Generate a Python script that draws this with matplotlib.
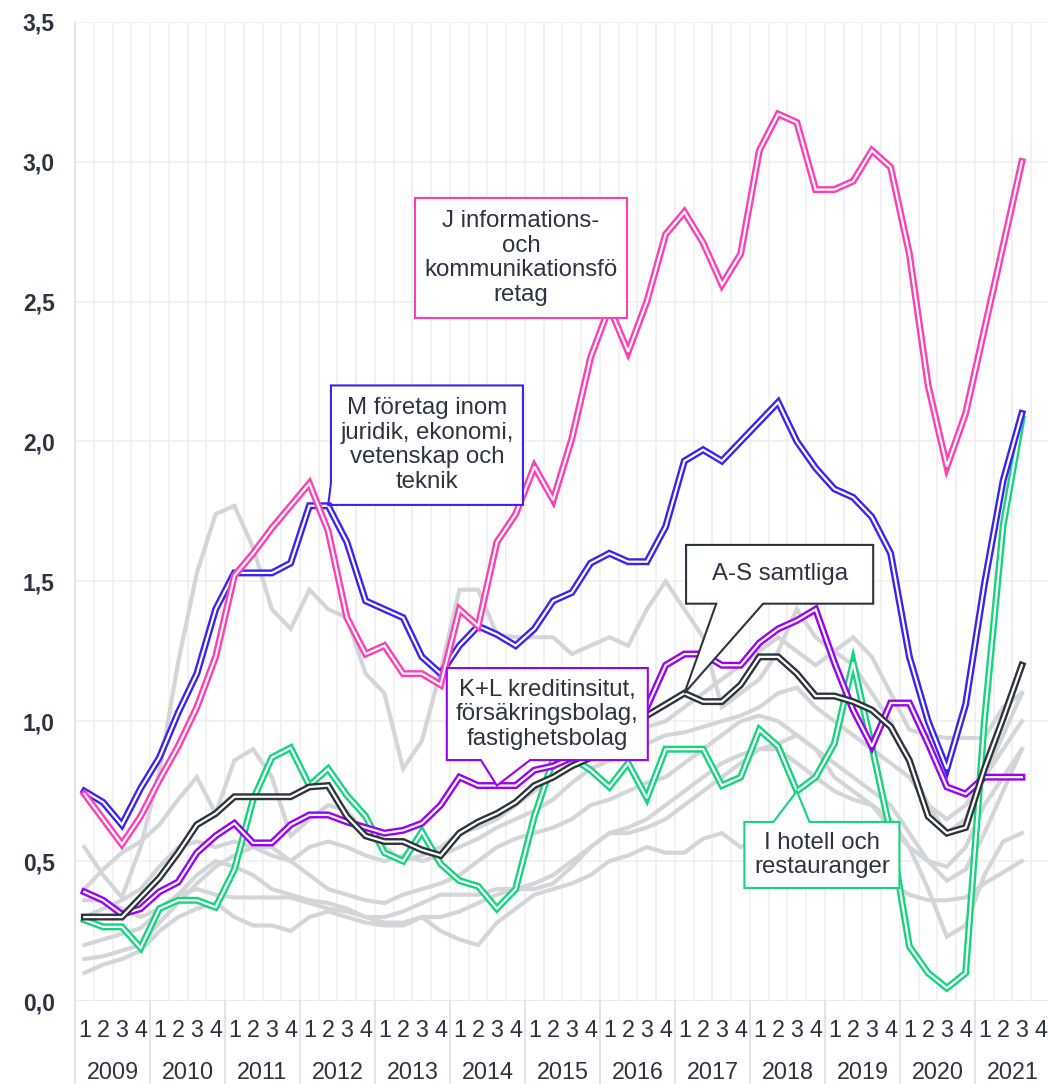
import numpy as np
import matplotlib.pyplot as plt
from matplotlib.patches import Polygon
from matplotlib.lines import Line2D

plt.rcParams['font.family'] = ['Liberation Sans', 'DejaVu Sans']

years = list(range(2009, 2022))
quarters = ['1', '2', '3', '4']

# named series, 2009Q1 .. 2021Q3
ict = [0.74, 0.65, 0.56, 0.66, 0.79, 0.91, 1.05, 1.23, 1.52, 1.60, 1.69, 1.77, 1.85,
       1.68, 1.37, 1.24, 1.27, 1.17, 1.17, 1.13, 1.40, 1.34, 1.64, 1.74, 1.91, 1.79,
       2.01, 2.30, 2.48, 2.32, 2.50, 2.74, 2.82, 2.71, 2.56, 2.67, 3.04, 3.17, 3.14,
       2.90, 2.90, 2.93, 3.04, 2.98, 2.67, 2.20, 1.91, 2.10, 2.40, 2.70, 3.00]
legal = [0.75, 0.71, 0.63, 0.76, 0.87, 1.03, 1.17, 1.40, 1.53, 1.53, 1.53, 1.565, 1.77,
         1.77, 1.64, 1.43, 1.40, 1.37, 1.23, 1.17, 1.27, 1.34, 1.31, 1.27, 1.33, 1.43,
         1.46, 1.565, 1.60, 1.57, 1.57, 1.695, 1.93, 1.97, 1.93, 2.00, 2.07, 2.14, 2.00,
         1.905, 1.83, 1.80, 1.73, 1.60, 1.23, 1.00, 0.83, 1.06, 1.49, 1.86, 2.10]
total = [0.30, 0.30, 0.30, 0.37, 0.44, 0.53, 0.63, 0.67, 0.73, 0.73, 0.73, 0.73, 0.765,
         0.77, 0.66, 0.59, 0.57, 0.57, 0.54, 0.52, 0.60, 0.64, 0.67, 0.71, 0.77, 0.80,
         0.84, 0.87, 0.92, 0.97, 1.02, 1.06, 1.10, 1.07, 1.07, 1.13, 1.23, 1.23, 1.17,
         1.09, 1.09, 1.07, 1.04, 0.98, 0.86, 0.66, 0.60, 0.62, 0.83, 1.01, 1.20]
finance = [0.39, 0.36, 0.31, 0.33, 0.39, 0.425, 0.53, 0.59, 0.635, 0.565, 0.565, 0.63,
           0.665, 0.665, 0.64, 0.62, 0.60, 0.61, 0.635, 0.70, 0.80, 0.77, 0.77, 0.77,
           0.825, 0.84, 0.87, 0.93, 0.98, 1.01, 1.05, 1.20, 1.24, 1.24, 1.20, 1.20, 1.28,
           1.33, 1.36, 1.40, 1.21, 1.04, 0.91, 1.065, 1.065, 0.92, 0.765, 0.74, 0.80,
           0.80, 0.80]
hotel = [0.29, 0.265, 0.265, 0.19, 0.33, 0.36, 0.36, 0.335, 0.47, 0.72, 0.87, 0.905,
         0.77, 0.83, 0.735, 0.66, 0.53, 0.50, 0.605, 0.49, 0.43, 0.41, 0.33, 0.40, 0.66,
         0.86, 0.87, 0.825, 0.765, 0.85, 0.725, 0.90, 0.90, 0.90, 0.77, 0.80, 0.97, 0.91,
         0.75, 0.80, 0.92, 1.21, 0.91, 0.60, 0.195, 0.10, 0.046, 0.10, 1.00, 1.70, 2.08]

# other industries (grey background lines)
other_a = [0.55, 0.45, 0.37, 0.55, 0.82, 1.21, 1.53, 1.74, 1.77, 1.62, 1.40, 1.33, 1.47,
           1.40, 1.37, 1.17, 1.10, 0.83, 0.93, 1.18, 1.47, 1.47, 1.31, 1.30, 1.30, 1.30,
           1.24, 1.27, 1.30, 1.27, 1.40, 1.50, 1.40, 1.30, 1.05, 1.10, 1.15, 1.25, 1.40,
           1.30, 1.25, 1.20, 1.10, 1.00, 0.85, 0.70, 0.60, 0.65, 0.80, 0.95, 1.10]
other_b = [0.30, 0.33, 0.36, 0.40, 0.48, 0.55, 0.57, 0.55, 0.57, 0.55, 0.52, 0.50, 0.55,
           0.57, 0.55, 0.52, 0.50, 0.52, 0.50, 0.52, 0.55, 0.58, 0.62, 0.65, 0.68, 0.72,
           0.78, 0.83, 0.86, 0.88, 0.92, 0.95, 0.96, 0.98, 1.00, 1.02, 1.05, 1.10, 1.12,
           1.05, 1.00, 0.95, 0.90, 0.85, 0.80, 0.70, 0.65, 0.70, 0.80, 0.90, 1.00]
other_c = [0.40, 0.47, 0.53, 0.57, 0.63, 0.72, 0.80, 0.67, 0.86, 0.90, 0.80, 0.59, 0.65,
           0.70, 0.68, 0.60, 0.55, 0.50, 0.52, 0.55, 0.60, 0.62, 0.65, 0.70, 0.75, 0.80,
           0.85, 0.90, 0.92, 0.95, 0.98, 1.00, 1.05, 1.10, 1.15, 1.20, 1.25, 1.30, 1.25,
           1.20, 1.25, 1.30, 1.23, 1.10, 0.97, 0.95, 0.94, 0.94, 0.94, 1.05, 1.10]
other_d = [0.36, 0.36, 0.33, 0.30, 0.33, 0.38, 0.40, 0.38, 0.37, 0.37, 0.37, 0.37, 0.35,
           0.33, 0.32, 0.30, 0.30, 0.32, 0.35, 0.38, 0.38, 0.38, 0.40, 0.40, 0.42, 0.45,
           0.50, 0.55, 0.60, 0.60, 0.62, 0.65, 0.70, 0.75, 0.80, 0.85, 0.90, 0.90, 0.85,
           0.80, 0.75, 0.72, 0.70, 0.65, 0.55, 0.40, 0.23, 0.27, 0.45, 0.57, 0.60]
other_e = [0.10, 0.13, 0.15, 0.18, 0.25, 0.30, 0.33, 0.35, 0.30, 0.27, 0.27, 0.25, 0.30,
           0.32, 0.30, 0.28, 0.27, 0.27, 0.30, 0.25, 0.22, 0.20, 0.28, 0.33, 0.38, 0.40,
           0.42, 0.45, 0.50, 0.52, 0.55, 0.53, 0.53, 0.58, 0.60, 0.55, 0.58, 0.60, 0.60,
           0.55, 0.52, 0.50, 0.45, 0.42, 0.38, 0.36, 0.36, 0.37, 0.42, 0.46, 0.50]
other_f = [0.15, 0.16, 0.18, 0.20, 0.28, 0.35, 0.42, 0.48, 0.52, 0.55, 0.55, 0.50, 0.45,
           0.40, 0.38, 0.36, 0.35, 0.38, 0.40, 0.42, 0.45, 0.50, 0.55, 0.58, 0.60, 0.62,
           0.65, 0.70, 0.72, 0.75, 0.78, 0.80, 0.85, 0.90, 0.95, 1.00, 1.02, 1.00, 0.95,
           0.90, 0.85, 0.80, 0.75, 0.70, 0.60, 0.50, 0.43, 0.47, 0.60, 0.75, 0.90]
other_g = [0.20, 0.22, 0.24, 0.26, 0.32, 0.38, 0.45, 0.50, 0.48, 0.45, 0.40, 0.38, 0.36,
           0.35, 0.33, 0.30, 0.28, 0.28, 0.30, 0.30, 0.32, 0.35, 0.38, 0.40, 0.40, 0.42,
           0.48, 0.55, 0.60, 0.62, 0.65, 0.70, 0.75, 0.80, 0.85, 0.88, 0.90, 0.92, 0.95,
           0.90, 0.80, 0.75, 0.70, 0.62, 0.55, 0.50, 0.48, 0.55, 0.70, 0.80, 0.90]
others = [other_a, other_b, other_c, other_d, other_e, other_f, other_g]

grey = '#d3d5d9'
text_col = '#2d3440'
c_ict = '#ff3db4'
c_legal = '#3a22f2'
c_total = '#2d343c'
c_fin = '#9a00f4'
c_hotel = '#14d47e'

fig = plt.figure(figsize=(10.48, 10.84), dpi=100)
ax = fig.add_axes([75 / 1048, 1 - 1001 / 1084, 975 / 1048, 979.3 / 1084])

n_q = len(years) * 4
x = np.arange(len(ict))

ax.set_xlim(-0.5, n_q - 0.5)
ax.set_ylim(0, 3.5)
ax.set_xticks(np.arange(-0.5, n_q, 1))
ax.set_xticklabels([])
ax.set_yticks(np.arange(0, 3.51, 0.5))
ax.set_yticklabels([f'{v:.1f}'.replace('.', ',') for v in np.arange(0, 3.51, 0.5)],
                   fontsize=16.5, fontweight='bold', color=text_col)
ax.tick_params(length=0, pad=14.5)
ax.grid(True, color='#efefef', lw=1.1)
for s in ax.spines.values():
    s.set_visible(False)

for ser in others:
    ax.plot(x, ser, color=grey, lw=3.0, solid_joinstyle='miter', zorder=2)

for ser, col in [(hotel, c_hotel), (finance, c_fin), (total, c_total),
                 (legal, c_legal), (ict, c_ict)]:
    ax.plot(x, ser, color=col, lw=5.0, solid_joinstyle='miter', zorder=3)
    ax.plot(x, ser, color='white', lw=1.6, solid_joinstyle='miter', zorder=3)

# axis line and year separators below the plot
ax.axhline(0, color='#dedede', lw=1.3, zorder=1)
tr = ax.get_xaxis_transform()
for k in range(len(years) + 1):
    ax.add_line(Line2D([4 * k - 0.5, 4 * k - 0.5], [0, -0.09], transform=tr,
                       color='#dcdcdc', lw=1.1, clip_on=False))
ax.add_line(Line2D([-0.5, -0.5], [0, 1], transform=tr, color='#dedede', lw=1.1,
                   clip_on=False))

for i in range(n_q):
    ax.text(i, -0.0305, quarters[i % 4], transform=tr, ha='center', va='center',
            fontsize=16.8, color=text_col)
for k, yr in enumerate(years):
    ax.text(4 * k + 1.5, -0.0735, str(yr), transform=tr, ha='center', va='center',
            fontsize=16.8, color=text_col)


def callout(x0, x1, y0, y1, color, label, tip=None, base=None, side='bottom'):
    # box with an optional pointer to a data point
    if tip is None:
        pts = [(x0, y0), (x1, y0), (x1, y1), (x0, y1)]
    elif side == 'bottom':
        pts = [(x0, y0), (base[0], y0), tip, (base[1], y0), (x1, y0), (x1, y1), (x0, y1)]
    elif side == 'top':
        pts = [(x0, y0), (x1, y0), (x1, y1), (base[1], y1), tip, (base[0], y1), (x0, y1)]
    else:
        pts = [(x0, y0), (x1, y0), (x1, y1), (x0, y1), (x0, base[1]), tip, (x0, base[0])]
    ax.add_patch(Polygon(pts, closed=True, facecolor='white', edgecolor=color,
                         lw=1.5, zorder=5, joinstyle='miter'))
    ax.text((x0 + x1) / 2, (y0 + y1) / 2, label, ha='center', va='center',
            fontsize=17.3, color=text_col, linespacing=1.15, zorder=6)


callout(17.63, 28.93, 2.44, 2.87, c_ict,
        'J informations-\noch\nkommunikationsfö\nretag')
callout(13.15, 23.39, 1.773, 2.20, c_legal,
        'M företag inom\njuridik, ekonomi,\nvetenskap och\nteknik',
        tip=(13, legal[13]), base=(1.78, 1.85), side='left')
callout(32.09, 42.07, 1.42, 1.63, c_total, 'A-S samtliga',
        tip=(32, total[32]), base=(33.7, 36.2))
callout(19.33, 30.05, 0.861, 1.19, c_fin,
        'K+L kreditinsitut,\nförsäkringsbolag,\nfastighetsbolag',
        tip=(22, finance[22]), base=(21.15, 23.77))
callout(35.2, 43.47, 0.404, 0.64, c_hotel, 'I hotell och\nrestauranger',
        tip=(38, hotel[38]), base=(36.75, 38.67), side='top')

fig.savefig('out.png', dpi=100)
